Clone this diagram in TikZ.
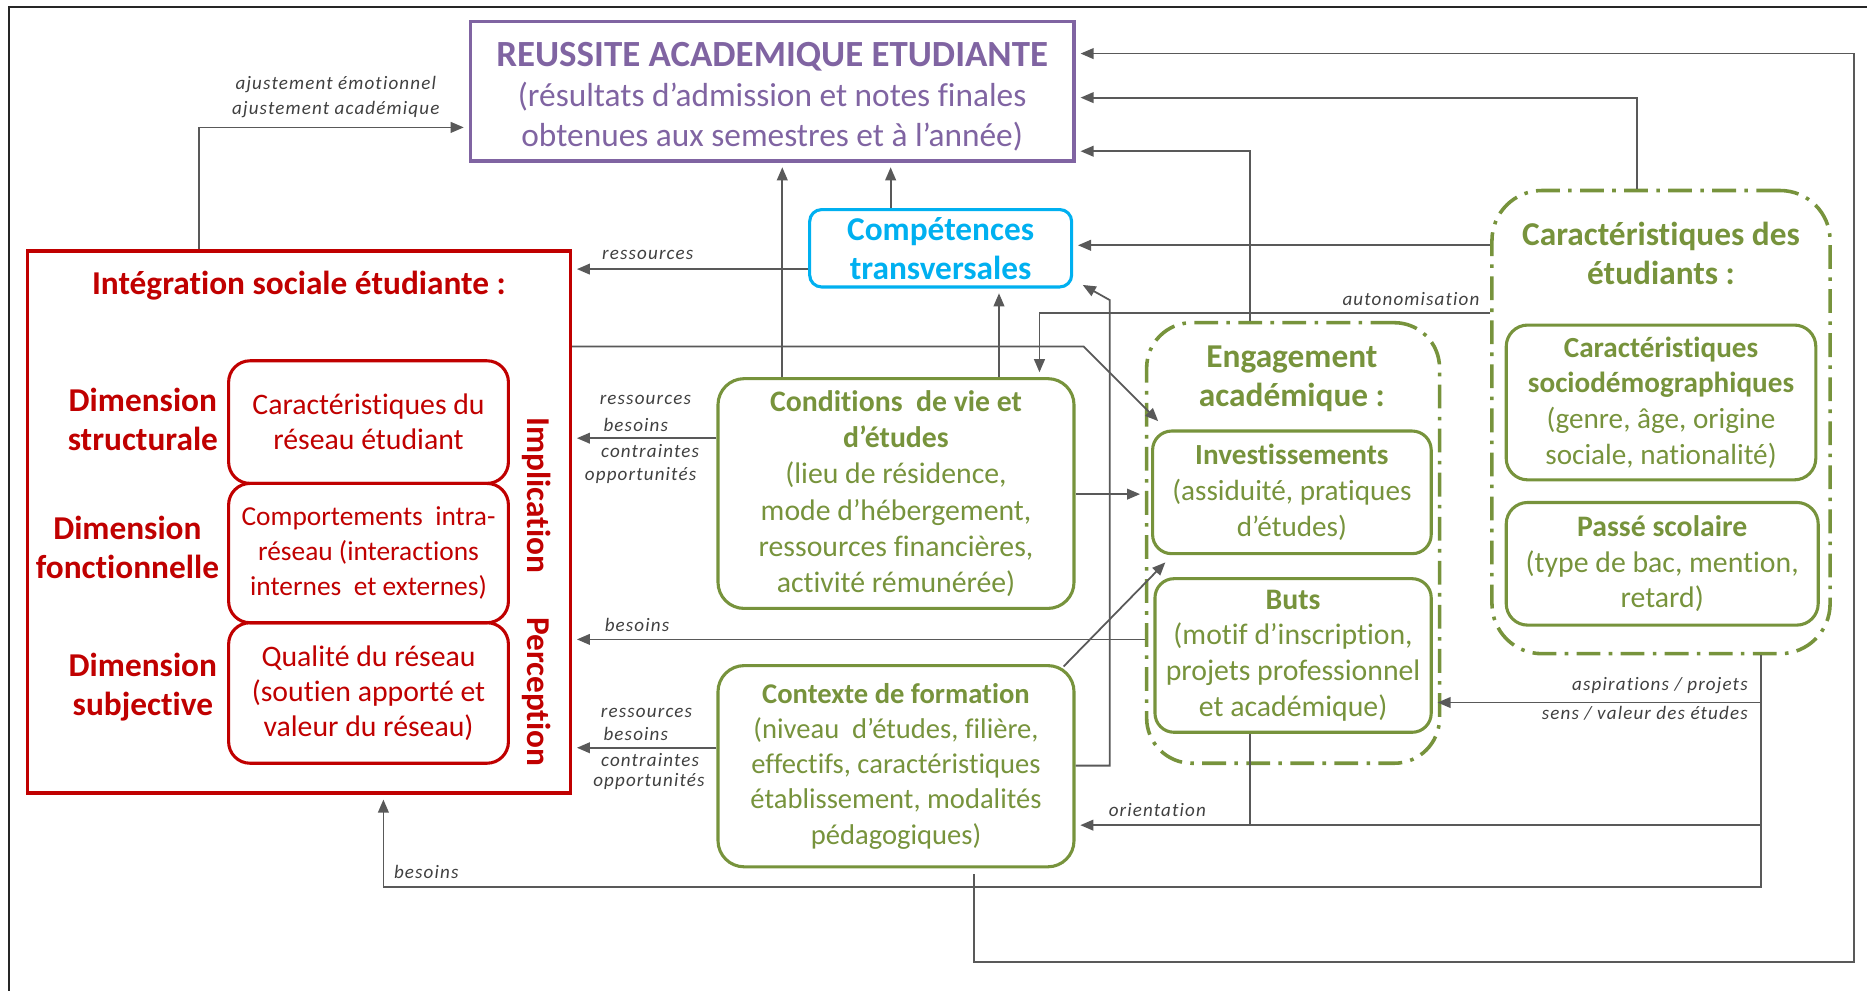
\documentclass[tikz,border=0pt]{standalone}
\usepackage{fontspec}
\setmainfont{Carlito}[Ligatures={NoCommon}]
\usetikzlibrary{arrows.meta,calc}
\definecolor{purp}{HTML}{8064A2}
\definecolor{cyanb}{HTML}{00B0F0}
\definecolor{redb}{HTML}{C00000}
\definecolor{grn}{HTML}{77933C}
\definecolor{conng}{HTML}{595959}
\definecolor{lbl}{HTML}{404040}
\begin{document}
\begin{tikzpicture}[x=1pt,y=-1pt,
 conn/.style={draw=conng,line width=1.5pt,-{Triangle[length=11pt,width=9pt]},shorten >=4pt},
 plain/.style={draw=conng,line width=1.5pt},
 lab/.style={text=lbl,font=\fontsize{16}{20.5}\selectfont\itshape\addfontfeatures{LetterSpace=6},inner sep=0pt},
 gbox/.style={draw=grn,line width=2.6pt,rounded corners=22pt,text=grn,align=center,inner sep=0pt},
 gdash/.style={draw=grn,line width=3pt,rounded corners=38pt,dash pattern=on 20pt off 7pt on 3pt off 7pt},
 rbox/.style={draw=redb,line width=2.6pt,rounded corners=18pt,text=redb,align=center,inner sep=0pt,minimum width=235pt,font=\fontsize{25}{29.5}\selectfont},
 dimlab/.style={text=redb,align=center,inner sep=0pt,font=\fontsize{28}{33}\selectfont\bfseries},
 vlab/.style={text=redb,inner sep=0pt,font=\fontsize{28}{30}\selectfont\bfseries,rotate=-90},
 gtitle/.style={text=grn,align=center,inner sep=0pt,font=\fontsize{28}{33}\selectfont\bfseries},
]
\useasboundingbox (0,0) rectangle (1568,832);
% outer frame (cut off right and bottom)
\draw[line width=1.6pt,black!85] (7.5,832) -- (7.5,6) -- (1568,6);

% main nodes
\node[draw=purp,line width=3pt,minimum width=507pt,minimum height=117pt,inner sep=0pt] (reuss) at (648.5,76.5) {};
\node[text=purp,align=center,inner sep=0pt,font=\fontsize{28}{33}\selectfont] (reusst) at (648.5,81) {\textbf{\fontsize{31}{33}\selectfont REUSSITE ACADEMIQUE ETUDIANTE}\\[1pt](résultats d’admission et notes finales\\obtenues aux semestres et à l’année)};

\node[draw=cyanb,line width=2.6pt,rounded corners=10pt,minimum width=220pt,minimum height=65pt,text=cyanb,align=center,inner sep=0pt,font=\fontsize{28}{33}\selectfont\bfseries] (comp) at (790,208.5) {Compétences\\transversales};

\node[draw=redb,line width=3pt,minimum width=456pt,minimum height=455pt,inner sep=0pt] (integ) at (251,438.5) {};
\node[text=redb,inner sep=0pt,font=\fontsize{28}{30}\selectfont\bfseries] (integt) at (251,240) {Intégration sociale étudiante :};
\node[rbox,minimum height=103pt] (carr) at (309.5,354.5) {Caractéristiques du\\réseau étudiant};
\node[rbox,minimum height=117pt,font=\fontsize{23}{29.5}\selectfont] (compo) at (309.5,464.5) {Comportements\ \ intra-\\réseau (interactions\\internes\ \ et externes)};
\node[rbox,minimum height=118pt] (qual) at (309.5,582) {Qualité du réseau\\(soutien apporté et\\valeur du réseau)};
\node[dimlab] (dstr) at (120,352) {Dimension\\structurale};
\node[dimlab] (dfon) at (107,460) {Dimension\\fonctionnelle};
\node[dimlab] (dsub) at (120,577) {Dimension\\subjective};
\node[vlab] (impl) at (451,416) {Implication};
\node[vlab] (perc) at (451,581) {Perception};

\node[gbox,minimum width=299pt,minimum height=193pt,font=\fontsize{25}{30.5}\selectfont] (cond) at (752.5,414.5) {\textbf{Conditions\ \ de vie et}\\\textbf{d’études}\\(lieu de résidence,\\mode d’hébergement,\\ressources financières,\\activité rémunérée)};
\node[gbox,minimum width=299pt,minimum height=169pt,font=\fontsize{24}{29.5}\selectfont] (ctx) at (752.5,643.5) {\textbf{Contexte de formation}\\(niveau\ \ d’études, filière,\\effectifs, caractéristiques\\établissement, modalités\\pédagogiques)};

\node[gdash,minimum width=246pt,minimum height=370pt,inner sep=0pt] (eng) at (1086,456) {};
\node[gtitle] (engt) at (1085,318) {Engagement\\académique :};
\node[gbox,rounded corners=16pt,minimum width=234pt,minimum height=103pt,font=\fontsize{24.5}{30}\selectfont] (inv) at (1085,413.5) {\textbf{Investissements}\\(assiduité, pratiques\\d’études)};
\node[gbox,rounded corners=16pt,minimum width=232pt,minimum height=129pt,font=\fontsize{25}{30}\selectfont] (buts) at (1086,550.5) {\textbf{Buts}\\(motif d’inscription,\\projets professionnel\\et académique)};

\node[gdash,rounded corners=42pt,minimum width=284pt,minimum height=389pt,inner sep=0pt] (caret) at (1395,354.5) {};
\node[gtitle] (carett) at (1395,213) {Caractéristiques des\\étudiants :};
\node[gbox,rounded corners=18pt,minimum width=260pt,minimum height=130pt,font=\fontsize{24.5}{30}\selectfont] (socio) at (1395,338) {\textbf{Caractéristiques}\\\textbf{sociodémographiques}\\(genre, âge, origine\\sociale, nationalité)};
\node[gbox,rounded corners=18pt,minimum width=262pt,minimum height=103pt,font=\fontsize{25}{30}\selectfont] (passe) at (1396,473.5) {\textbf{Passé scolaire}\\(type de bac, mention,\\retard)};

% junction coordinates
\coordinate (jA) at (910,291);
\coordinate (jL) at (932,252);
\coordinate (jLoopA) at (818,808);
\coordinate (jLoopB) at (1557,808);
\coordinate (jBes) at (1479,745);
\coordinate (jAsp) at (1479,590);
\coordinate (jOri) at (1479,693);
\coordinate (jBut) at (1050,693);

% connectors
\draw[conn] (integ.north -| 167,0) |- (reuss.west |- 0,107);
\draw[conn] (cond.north -| 657,0) -- (reuss.south -| 657,0);
\draw[conn] (comp.north -| 748,0) -- (reuss.south -| 748,0);
\draw[conn] (cond.north -| 839,0) -- (comp.south -| 839,0);
\draw[conn] (comp.west |- 0,226) -- (integ.east |- 0,226);
\draw[conn] (cond.west |- 0,368) -- (integ.east |- 0,368);
\draw[conn] (eng.west |- 0,537) -- (integ.east |- 0,537);
\draw[conn] (ctx.west |- 0,628) -- (integ.east |- 0,628);
\draw[conn,shorten >=0pt] (integ.east |- 0,291) -- (jA) -- ($(inv.north west)+(6,-7)$);
\draw[conn] (cond.east |- 0,415) -- (eng.west |- 0,415);
\draw[conn,shorten >=0pt] ($(ctx.north east)+(-10,2)$) -- ($(inv.south west)+(12,6)$);
\draw[conn,shorten >=0pt] (ctx.east |- 0,643) -| (jL) -- ($(comp.south east)+(8,-3)$);
\draw[conn] (caret.west |- 0,263) -| (cond.north -| 873,0);
\draw[conn] (caret.west |- 0,206) -- (comp.east |- 0,206);
\draw[conn] (eng.north -| 1050,0) |- (reuss.east |- 0,127);
\draw[conn] (caret.north -| 1375,0) |- (reuss.east |- 0,82);
\draw[conn] ($(ctx.south -| 818,0)+(0,5)$) -- (jLoopA) -- (jLoopB) |- (reuss.east |- 0,45);
\draw[conn] (caret.south -| 1479,0) -- (jBes) -| (integ.south -| 322,0);
\draw[conn] (jAsp) -- (buts.east |- jAsp);
\draw[conn] (jOri) -- (ctx.east |- jOri);
\draw[plain] (buts.south -| jBut) -- (jBut);

% labels
\node[lab] (l1) at (282,71) {ajustement émotionnel};
\node[lab] (l2) at (282,92) {ajustement académique};
\node[lab] (l3) at (544,214) {ressources};
\node[lab] (l4) at (542,336) {ressources};
\node[lab] (l5) at (534,357) {besoins};
\node[lab] (l6) at (546,379) {contraintes};
\node[lab] (l7) at (538,399) {opportunités};
\node[lab] (l8) at (535,525) {besoins};
\node[lab] (l9) at (543,599) {ressources};
\node[lab] (l10) at (534,616) {besoins};
\node[lab] (l11) at (546,638) {contraintes};
\node[lab] (l12) at (545,656) {opportunités};
\node[lab] (l13) at (1185,251) {autonomisation};
\node[lab,anchor=east] (l14) at (1468,576) {aspirations / projets};
\node[lab,anchor=east] (l15) at (1468,599) {sens / valeur des études};
\node[lab] (l16) at (972,680) {orientation};
\node[lab] (l17) at (358,732) {besoins};
\end{tikzpicture}
\end{document}
